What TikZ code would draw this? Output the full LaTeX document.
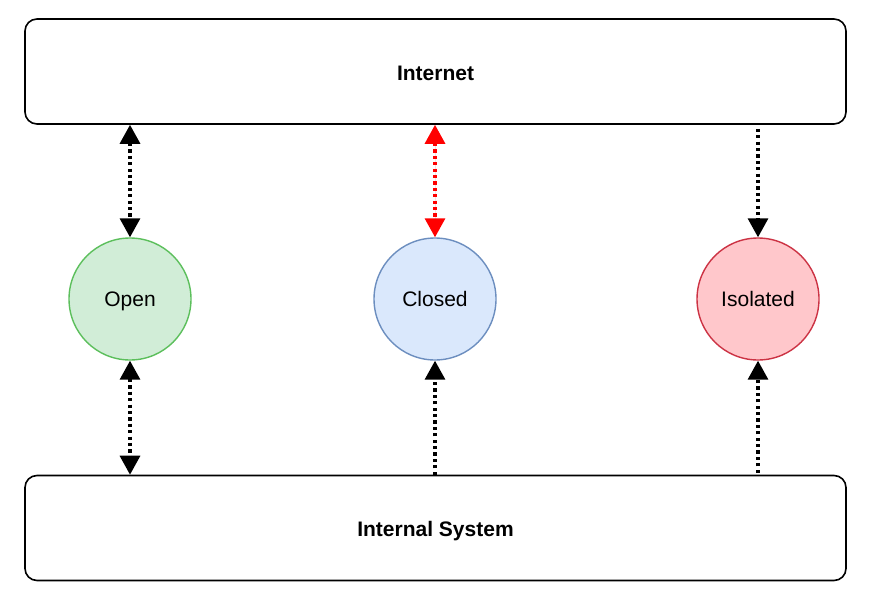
\documentclass[tikz,border=0pt]{standalone}
\usepackage{fontspec}
\setmainfont{Liberation Sans}
\usetikzlibrary{arrows.meta}
\definecolor{gfill}{HTML}{D1EDD7}
\definecolor{gdraw}{HTML}{5CBF5C}
\definecolor{bfill}{HTML}{DAE8FC}
\definecolor{bdraw}{HTML}{6C8EBF}
\definecolor{rfill}{HTML}{FFC7CB}
\definecolor{rdraw}{HTML}{CC3344}
\definecolor{linkred}{HTML}{FF0000}
\tikzset{
  bigbox/.style={draw=black, line width=1.6pt, rounded corners=12pt, minimum width=821pt, minimum height=105pt, font=\fontsize{21}{25}\selectfont\bfseries, inner sep=0pt, text height=21pt, text depth=4pt},
  state/.style={circle, line width=1.4pt, minimum size=122pt, inner sep=0pt, font=\fontsize{21}{25}\selectfont, text height=19pt, text depth=4pt},
  link/.style={line width=3.2pt, dash pattern=on 3.2pt off 3.2pt, -{Triangle[length=19pt,width=20pt]}},
  link2/.style={link, {Triangle[length=19pt,width=20pt]}-{Triangle[length=19pt,width=20pt]}}
}
\begin{document}
\begin{tikzpicture}[x=1pt,y=-1pt]
\useasboundingbox (0,0) rectangle (869,602);
\node[bigbox] (inet) at (435.5,71.5) {Internet};
\node[bigbox] (intsys) at (435.5,528) {Internal System};
\node[state, fill=gfill, draw=gdraw] (open) at (130,299) {Open};
\node[state, fill=bfill, draw=bdraw] (closed) at (435,299) {Closed};
\node[state, fill=rfill, draw=rdraw] (iso) at (758,299) {Isolated};
\draw[link2] (open |- inet.south) -- (open.north);
\draw[link2, draw=linkred, fill=linkred] (closed |- inet.south) -- (closed.north);
\draw[link] ([yshift=-4pt]iso |- inet.south) -- (iso.north);
\draw[link2] (open.south) -- (open |- intsys.north);
\draw[link] (closed |- intsys.north) -- (closed.south);
\draw[link] ([yshift=2pt]iso |- intsys.north) -- (iso.south);
\end{tikzpicture}
\end{document}
